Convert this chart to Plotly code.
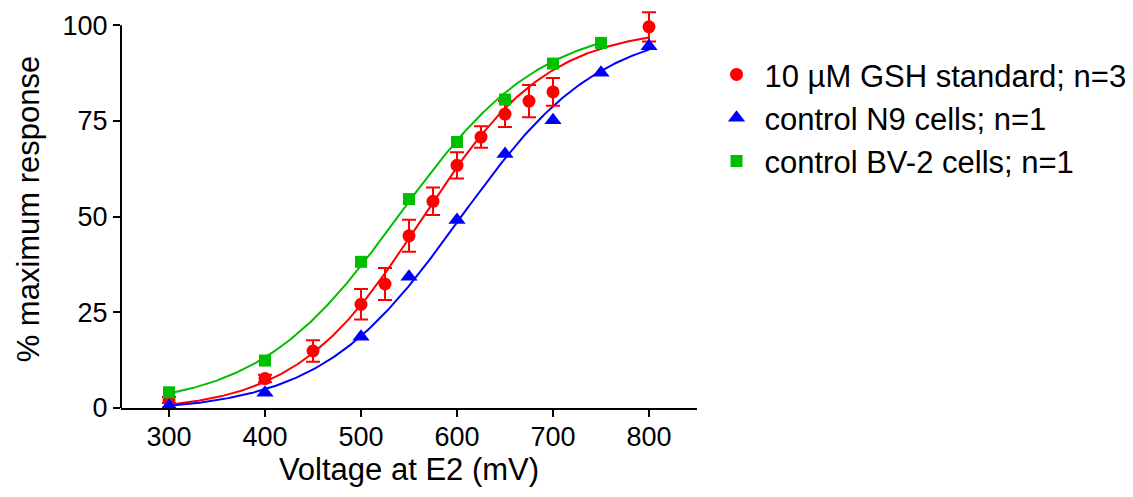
import numpy as np
import plotly.graph_objects as go

# Voltage at E2 (mV) and % maximum response for each sample
gsh_x = [300, 400, 450, 500, 525, 550, 575, 600, 625, 650, 675, 700, 800]
gsh_y = [2.1, 7.7, 14.9, 27.1, 32.4, 45.0, 54.0, 63.4, 70.8, 76.8, 80.2, 82.6, 99.6]
gsh_err = [0.8, 1.0, 2.8, 4.0, 4.2, 4.2, 3.6, 3.4, 2.8, 3.4, 4.2, 3.6, 3.8]

n9_x = [300, 400, 500, 550, 600, 650, 700, 750, 800]
n9_y = [0.6, 4.0, 18.6, 34.3, 49.1, 66.4, 75.2, 87.6, 94.5]

bv2_x = [300, 400, 500, 550, 600, 650, 700, 750]
bv2_y = [4.1, 12.4, 38.2, 54.6, 69.5, 80.6, 90.0, 95.4]

# Sigmoidal (Boltzmann) fit parameters: bottom, top, V50 (mV), slope (mV)
gsh_fit = [-1.0, 99.5, 563.0, 66.0]
n9_fit = [-1.0, 100.0, 603.0, 73.0]
bv2_fit = [0.0, 101.0, 540.0, 74.0]

labels = ["10 \u00b5M GSH standard; n=3", "control N9 cells; n=1", "control BV-2 cells; n=1"]
colors = ["#FF0000", "#0000FF", "#00BE00"]

x_ticks = [300, 400, 500, 600, 700, 800]
y_ticks = [0, 25, 50, 75, 100]
y_axis_top = 100      # the drawn y axis line stops here
y_view_top = 104      # headroom so the top error bar is not clipped

FONT = "Liberation Sans, Arial, sans-serif"


def boltzmann(v, p):
    bottom, top, v50, slope = p
    return bottom + (top - bottom) / (1.0 + np.exp((v50 - v) / slope))


fig = go.Figure()

series = [
    (gsh_x, gsh_y, gsh_fit, "circle", 13, gsh_err),
    (n9_x, n9_y, n9_fit, "triangle-up", 15, None),
    (bv2_x, bv2_y, bv2_fit, "square", 12, None),
]

# fitted curves
for (xs, ys, fit, sym, size, err), col in zip(series, colors):
    vv = np.linspace(min(xs), max(xs), 300)
    fig.add_trace(go.Scatter(
        x=vv, y=boltzmann(vv, fit), mode="lines",
        line=dict(color=col, width=2), showlegend=False, hoverinfo="skip",
    ))

# measured points
for (xs, ys, fit, sym, size, err), col, lab in zip(series, colors, labels):
    fig.add_trace(go.Scatter(
        x=xs, y=ys, mode="markers", name=lab,
        marker=dict(symbol=sym, size=size, color=col, line=dict(width=0)),
        error_y=dict(type="data", array=err, color=col, thickness=2, width=7,
                     visible=err is not None),
        cliponaxis=False,
    ))

axis_common = dict(
    linecolor="black", linewidth=2,
    ticks="outside", ticklen=7, tickwidth=2, tickcolor="black",
    showgrid=False, zeroline=False,
    tickfont=dict(family=FONT, size=27, color="black"),
)

# y axis line drawn only over 0..100
fig.add_shape(type="line", xref="paper", yref="y", x0=0, x1=0,
              y0=0, y1=y_axis_top, line=dict(color="black", width=2))

fig.update_layout(
    width=1133, height=497,
    margin=dict(l=121, r=436, t=10, b=89, autoexpand=False),
    paper_bgcolor="white", plot_bgcolor="white",
    font=dict(family=FONT, color="black"),
    xaxis=dict(range=[250, 850], tickvals=x_ticks, showline=True,
               ticklabelstandoff=-3,
               title=dict(text="Voltage at E2 (mV)", font=dict(size=31), standoff=0),
               **axis_common),
    yaxis=dict(range=[0, y_view_top], tickvals=y_ticks, showline=False,
               title=dict(text="% maximum response", font=dict(size=31), standoff=13),
               **axis_common),
    legend=dict(x=1.02, y=0.905, xanchor="left", yanchor="top",
                font=dict(family=FONT, size=31, color="black"),
                itemwidth=46, bgcolor="rgba(0,0,0,0)"),
)

fig.write_html("out.html")
